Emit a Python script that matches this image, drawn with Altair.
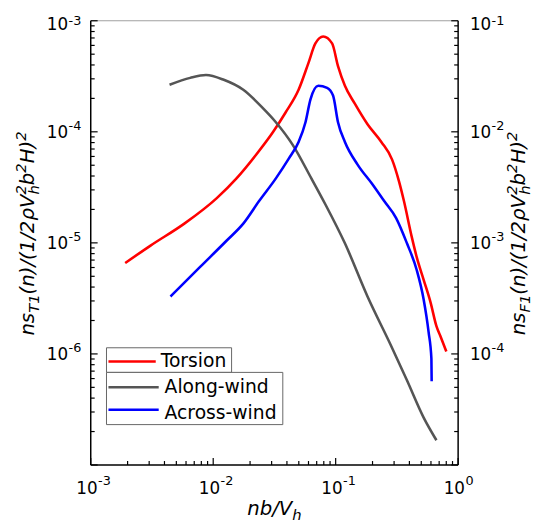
import altair as alt
import pandas as pd

# ---------------- data ----------------
torsion_x = [0.00191, 0.00310, 0.00581, 0.0107, 0.0155, 0.0224, 0.0308, 0.0391, 0.0498, 0.0599,
             0.0683, 0.0791, 0.0935, 0.1045, 0.119, 0.143, 0.182, 0.236, 0.289, 0.329,
             0.361, 0.419, 0.459, 0.523, 0.596, 0.665, 0.716, 0.801]
torsion_y = [6.58e-6, 9.5e-6, 1.49e-5, 2.53e-5, 3.81e-5, 6.22e-5, 9.96e-5, 1.50e-4, 2.39e-4, 4.16e-4,
             6.25e-4, 7.21e-4, 6.25e-4, 3.91e-4, 2.60e-4, 1.80e-4, 1.17e-4, 8.11e-5, 5.62e-5, 3.58e-5,
             2.38e-5, 1.12e-5, 7.43e-6, 4.65e-6, 2.90e-6, 1.78e-6, 1.45e-6, 1.05e-6]

along_x = [0.00440, 0.00649, 0.00873, 0.0122, 0.0176, 0.0251, 0.0325, 0.0446, 0.0633, 0.0821,
           0.119, 0.182, 0.284, 0.382, 0.523, 0.665]
along_y = [2.65e-2, 3.06e-2, 3.25e-2, 2.94e-2, 2.39e-2, 1.66e-2, 1.22e-2, 7.63e-3, 3.81e-3, 2.24e-3,
           9.91e-4, 3.29e-4, 1.18e-4, 5.79e-5, 2.67e-5, 1.67e-5]

across_x = [0.00448, 0.00782, 0.0129, 0.0176, 0.0237, 0.0325, 0.0414, 0.0498, 0.0567, 0.0622,
            0.0721, 0.0851, 0.0952, 0.1045, 0.119, 0.151, 0.1995, 0.249, 0.311, 0.382,
            0.459, 0.523, 0.574, 0.605, 0.608]
across_y = [3.29e-4, 6.07e-4, 1.05e-3, 1.49e-3, 2.38e-3, 3.81e-3, 5.73e-3, 8.11e-3, 1.22e-2, 1.95e-2,
            2.60e-2, 2.49e-2, 2.12e-2, 1.22e-2, 8.11e-3, 5.07e-3, 3.37e-3, 2.38e-3, 1.68e-3, 9.91e-4,
            5.70e-4, 3.09e-4, 1.57e-4, 9.08e-5, 5.68e-5]

x_major = [1e-3, 1e-2, 1e-1, 1e0]
x_exp = ["-3", "-2", "-1", "0"]
yl_major = [1e-3, 1e-4, 1e-5, 1e-6]
yl_exp = ["-3", "-4", "-5", "-6"]
yr_major = [1e-1, 1e-2, 1e-3, 1e-4]
yr_exp = ["-1", "-2", "-3", "-4"]

legend_labels = ["Torsion", "Along-wind", "Across-wind"]
series_colors = ["#ff0000", "#555555", "#0000ff"]

# ---------------- layout ----------------
W, H = 373, 451
FONT = "DejaVu Sans"
xs = alt.Scale(type="log", domain=[1e-3, 1])
yl = alt.Scale(type="log", domain=[1e-7, 1e-3])
yr = alt.Scale(type="log", domain=[1e-5, 1e-1])

one = pd.DataFrame({"a": [0]})


def line(xv, yv, scale, color):
    df = pd.DataFrame({"x": xv, "y": yv})
    return alt.Chart(df).mark_line(color=color, strokeWidth=2.6, interpolate="monotone").encode(
        x=alt.X("x:Q", scale=xs, axis=None),
        y=alt.Y("y:Q", scale=scale, axis=None),
    )


layers = []
layers.append(line(torsion_x, torsion_y, yl, series_colors[0]))
layers.append(line(along_x, along_y, yr, series_colors[1]))
layers.append(line(across_x, across_y, yr, series_colors[2]))

# frame
layers.append(alt.Chart(one).mark_rule(color="#a0a0a0", strokeWidth=1).encode(
    x=alt.value(0), x2=alt.value(W), y=alt.value(0)))
for xv in (0, W):
    layers.append(alt.Chart(one).mark_rule(color="black", strokeWidth=1.5).encode(
        x=alt.value(xv), y=alt.value(0), y2=alt.value(H)))
layers.append(alt.Chart(one).mark_rule(color="black", strokeWidth=1.5).encode(
    x=alt.value(0), x2=alt.value(W), y=alt.value(H)))

# ticks (inward)
x_minor = [k * 10.0 ** e for e in (-3, -2, -1) for k in range(2, 10)]
yl_minor = [k * 10.0 ** e for e in (-7, -6, -5, -4) for k in range(2, 10)]
yr_minor = [k * 10.0 ** e for e in (-5, -4, -3, -2) for k in range(2, 10)]
yl_all_major = [1e-7] + yl_major
yr_all_major = [1e-5] + yr_major

for vals, ln in ((x_major, 7), (x_minor, 4)):
    layers.append(alt.Chart(pd.DataFrame({"v": vals})).mark_rule(color="black", strokeWidth=1.2).encode(
        x=alt.X("v:Q", scale=xs, axis=None), x2=alt.X2("v:Q"),
        y=alt.value(H), y2=alt.value(H - ln)))
for vals, ln in ((yl_all_major, 7), (yl_minor, 4)):
    layers.append(alt.Chart(pd.DataFrame({"v": vals})).mark_rule(color="black", strokeWidth=1.2).encode(
        y=alt.Y("v:Q", scale=yl, axis=None), y2=alt.Y2("v:Q"),
        x=alt.value(0), x2=alt.value(ln)))
for vals, ln in ((yr_all_major, 7), (yr_minor, 4)):
    layers.append(alt.Chart(pd.DataFrame({"v": vals})).mark_rule(color="black", strokeWidth=1.2).encode(
        y=alt.Y("v:Q", scale=yr, axis=None), y2=alt.Y2("v:Q"),
        x=alt.value(W), x2=alt.value(W - ln)))

# tick labels (10 with superscript exponent)
xdf = pd.DataFrame({"v": x_major, "e": x_exp})
layers.append(alt.Chart(xdf).mark_text(align="right", baseline="alphabetic", dx=7, fontSize=17, font=FONT, color="black").encode(
    x=alt.X("v:Q", scale=xs, axis=None), y=alt.value(480), text=alt.value("10")))
layers.append(alt.Chart(xdf).mark_text(align="left", baseline="alphabetic", dx=7.5, fontSize=13, font=FONT, color="black").encode(
    x=alt.X("v:Q", scale=xs, axis=None), y=alt.value(471), text="e:N"))


def ylabels(vals, exps, scale, x10, xsup, top_exp):
    df = pd.DataFrame({"v": vals, "e": exps})
    out = []
    for flt, d10, dsup in (("datum.e != '%s'" % top_exp, 6, -1.5), ("datum.e == '%s'" % top_exp, 9, 4.5)):
        base = alt.Chart(df).transform_filter(flt)
        out.append(base.mark_text(align="right" if x10 < 0 else "left", baseline="alphabetic", dy=d10,
                                  fontSize=17, font=FONT, color="black").encode(
            y=alt.Y("v:Q", scale=scale, axis=None), x=alt.value(x10), text=alt.value("10")))
        out.append(base.mark_text(align="left", baseline="alphabetic", dy=dsup, fontSize=13,
                                  font=FONT, color="black").encode(
            y=alt.Y("v:Q", scale=scale, axis=None), x=alt.value(xsup), text="e:N"))
    return out


layers += ylabels(yl_major, yl_exp, yl, -23, -22.5, "-3")
layers += ylabels(yr_major, yr_exp, yr, 385, 407, "-1")

# axis titles built from pieces (sub/superscripts)
EM = {"n": .634, "s": .521, "T": .611, "F": .575, "1": .636, "(": .390, ")": .390, "/": .337,
      "2": .636, "ρ": .635, "V": .684, "h": .634, "b": .635, "H": .752}
MAIN, SMALL = 20, 15


def tw(s, size):
    return sum(EM.get(c, .6) for c in s) * size


def pieces(groups):
    out, off = [], 0.0
    for g in groups:
        adv = 0.0
        for text, kind in g:
            size = MAIN if kind == "m" else SMALL
            shift = 0 if kind == "m" else (5 if kind == "b" else -8)
            out.append((text, size, off, shift))
            adv = max(adv, tw(text, size))
        off += adv
    return out, off


def ytitle_groups(letter):
    return [[("ns", "m")], [(letter + "1", "b")], [("(n)/(1/2ρV", "m")], [("h", "b"), ("2", "p")],
            [("b", "m")], [("2", "p")], [("H)", "m")], [("2", "p")]]


def rotated_title(groups, x0, center):
    segs, total = pieces(groups)
    start = center + total / 2
    res = []
    for text, size, off, shift in segs:
        res.append(alt.Chart(one).mark_text(align="left", baseline="alphabetic", angle=270, fontSize=size,
                                            fontStyle="italic", font=FONT, color="black").encode(
            x=alt.value(x0 + shift), y=alt.value(start - off), text=alt.value(text)))
    return res


layers += rotated_title(ytitle_groups("T"), -58, 216)
layers += rotated_title(ytitle_groups("F"), 440.5, 216)

xsegs, xtotal = pieces([[("nb/V", "m")], [("h", "b")]])
for text, size, off, shift in xsegs:
    layers.append(alt.Chart(one).mark_text(align="left", baseline="alphabetic", fontSize=size,
                                           fontStyle="italic", font=FONT, color="black").encode(
        x=alt.value(W / 2 - xtotal / 2 + off), y=alt.value(502 + shift), text=alt.value(text)))

# legend (two boxes)
layers.append(alt.Chart(one).mark_rect(fill="white", stroke="#666666", strokeWidth=1).encode(
    x=alt.value(16), x2=alt.value(143), y=alt.value(332), y2=alt.value(357)))
layers.append(alt.Chart(one).mark_rect(fill="white", stroke="#666666", strokeWidth=1).encode(
    x=alt.value(16), x2=alt.value(195), y=alt.value(357), y2=alt.value(410)))
leg_pos = [(18, 66, 346, 71, 352), (18, 69, 372, 75, 378), (18, 69, 395, 75, 404)]
for lab, col, (lx1, lx2, ly, tx, ty) in zip(legend_labels, series_colors, leg_pos):
    layers.append(alt.Chart(one).mark_rule(color=col, strokeWidth=2.6).encode(
        x=alt.value(lx1), x2=alt.value(lx2), y=alt.value(ly)))
    layers.append(alt.Chart(one).mark_text(align="left", baseline="alphabetic", fontSize=19, font=FONT, color="black").encode(
        x=alt.value(tx), y=alt.value(ty), text=alt.value(lab)))

chart = alt.layer(*layers).resolve_scale(y="independent").properties(
    width=W, height=H,
    autosize=alt.AutoSizeParams(type="none"),
    padding={"left": 84, "top": 9, "right": 75, "bottom": 58},
).configure_view(stroke=None)

chart.save("out.html", embed_options={"renderer": "svg", "actions": False})
